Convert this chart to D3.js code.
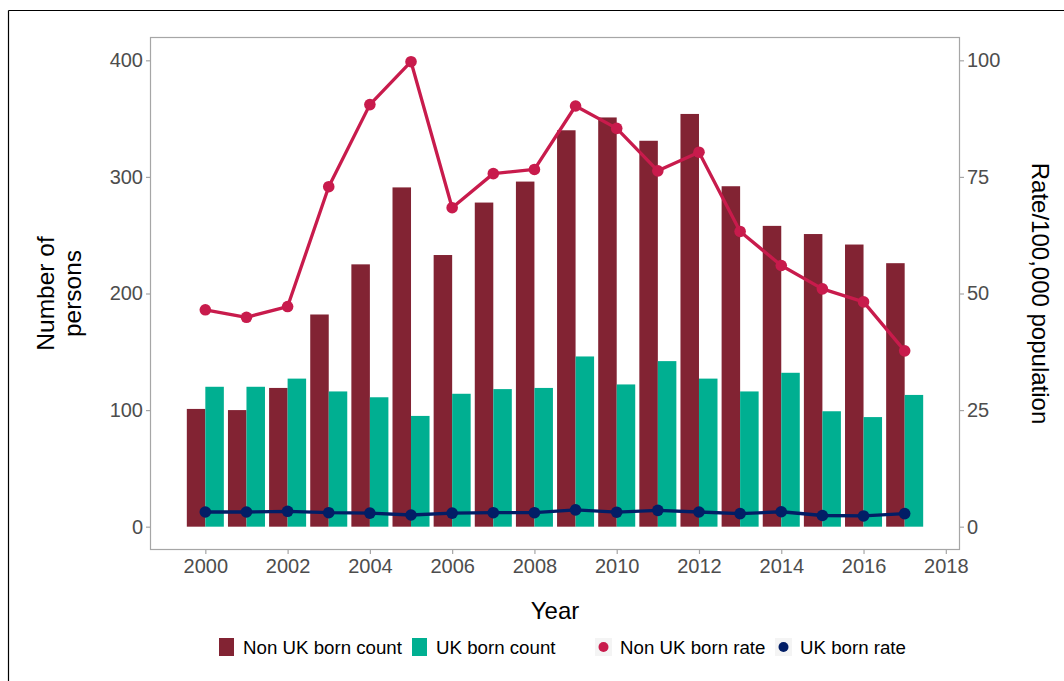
<!DOCTYPE html>
<html><head><meta charset="utf-8">
<script src="https://cdn.jsdelivr.net/npm/d3@7"></script>
<style>body{margin:0;background:#fff}svg{display:block;font-family:"Liberation Sans",Arial,sans-serif}</style>
</head><body><svg id="c" width="1064" height="681"></svg>
<script>
const years = [2000,2001,2002,2003,2004,2005,2006,2007,2008,2009,2010,2011,2012,2013,2014,2015,2016,2017];
const nonUkCount = [101,100,119,182,225,291,233,278,296,340,351,331,354,292,258,251,242,226];
const ukCount = [120,120,127,116,111,95,114,118,119,146,122,142,127,116,132,99,94,113];
const nonUkRate = [46.5,44.9,47.2,72.9,90.5,99.7,68.4,75.7,76.6,90.2,85.4,76.3,80.3,63.3,56.0,51.0,48.2,37.7];
const ukRate = [3.15,3.15,3.3,3.0,2.9,2.5,2.9,3.0,3.0,3.6,3.1,3.5,3.15,2.8,3.2,2.4,2.3,2.8];
const xTicks = [2000,2002,2004,2006,2008,2010,2012,2014,2016,2018];
const yTicks = [0,100,200,300,400];
const rateTicks = [0,25,50,75,100];
const legendItems = ["Non UK born count","UK born count","Non UK born rate","UK born rate"];

const C = {nonUk:"#822333", uk:"#00AF91", nonUkRate:"#C81B4C", ukRate:"#021E66"};
const svg = d3.select("#c");
const L=150,R=960,T=37,B=550;
const x = d3.scaleLinear().domain([1998.655,2018.345]).range([L,R]);
const y = d3.scaleLinear().domain([-20,420]).range([B,T]);
const yr = d3.scaleLinear().domain([-5,105]).range([B,T]);

// outer frame (top and left edges)
svg.append("line").attr("x1",8.5).attr("x2",1064).attr("y1",10.5).attr("y2",10.5).attr("stroke","#000").attr("stroke-width",1.2);
svg.append("line").attr("x1",8.5).attr("x2",8.5).attr("y1",10.5).attr("y2",681).attr("stroke","#000").attr("stroke-width",1.2);

// panel border
svg.append("rect").attr("x",L+0.5).attr("y",T+0.5).attr("width",R-L-1).attr("height",B-T-1)
  .attr("fill","none").attr("stroke","#a6a6a6").attr("stroke-width",1.2);

const bw = x(2000.45)-x(2000);
svg.append("g").selectAll("rect").data(years).join("rect")
  .attr("x",(d)=>x(d)-bw).attr("width",bw)
  .attr("y",(d,i)=>y(nonUkCount[i])).attr("height",(d,i)=>y(0)-y(nonUkCount[i]))
  .attr("fill",C.nonUk);
svg.append("g").selectAll("rect").data(years).join("rect")
  .attr("x",(d)=>x(d)).attr("width",bw)
  .attr("y",(d,i)=>y(ukCount[i])).attr("height",(d,i)=>y(0)-y(ukCount[i]))
  .attr("fill",C.uk);

function series(vals,color){
  const pts = years.map((d,i)=>[x(d),yr(vals[i])]);
  svg.append("path").attr("d",d3.line()(pts)).attr("fill","none").attr("stroke",color).attr("stroke-width",3.3).attr("stroke-linejoin","round");
  svg.append("g").selectAll("circle").data(pts).join("circle").attr("cx",d=>d[0]).attr("cy",d=>d[1]).attr("r",5.8).attr("fill",color);
}
series(nonUkRate,C.nonUkRate);
series(ukRate,C.ukRate);

// axes
const tickCol="#4d4d4d";
const gl = svg.append("g").attr("transform",`translate(${L},0)`).call(d3.axisLeft(y).tickValues(yTicks).tickSize(4).tickPadding(3));
const gr = svg.append("g").attr("transform",`translate(${R},0)`).call(d3.axisRight(yr).tickValues(rateTicks).tickSize(4).tickPadding(3));
const gb = svg.append("g").attr("transform",`translate(0,${B})`).call(d3.axisBottom(x).tickValues(xTicks).tickFormat(d3.format("d")).tickSize(4).tickPadding(5));
[gl,gr,gb].forEach(g=>{
  g.select(".domain").remove();
  g.selectAll(".tick line").attr("stroke","#a6a6a6").attr("stroke-width",1.2);
  g.selectAll("text").attr("fill",tickCol).attr("font-size",20).attr("font-family","Liberation Sans, Arial, sans-serif");
});

// titles
svg.append("text").attr("x",(L+R)/2).attr("y",619).attr("text-anchor","middle").attr("font-size",24).attr("fill","#000").text("Year");
const lt = svg.append("text").attr("transform",`translate(0,${(T+B)/2}) rotate(-90)`).attr("text-anchor","middle").attr("font-size",24.5).attr("fill","#000");
lt.append("tspan").attr("x",0).attr("y",54).text("Number of");
lt.append("tspan").attr("x",0).attr("y",81).text("persons");
svg.append("text").attr("transform",`translate(1032,${(T+B)/2}) rotate(90)`).attr("text-anchor","middle").attr("font-size",24).attr("fill","#000").text("Rate/100,000 population");

// legend
const lg = svg.append("g").attr("font-size",18.7).attr("fill","#000");
const ly = 647;
const legendX = [219,412,595,775];
legendItems.forEach((t,i)=>{
  const gx = legendX[i];
  if(i<2){
    lg.append("rect").attr("x",gx).attr("y",ly-9).attr("width",15).attr("height",18).attr("fill",i===0?C.nonUk:C.uk);
  } else {
    lg.append("rect").attr("x",gx).attr("y",ly-9).attr("width",17).attr("height",18).attr("fill","#f4f4f4");
    lg.append("circle").attr("cx",gx+8.5).attr("cy",ly).attr("r",5).attr("fill",i===2?C.nonUkRate:C.ukRate);
  }
  lg.append("text").attr("x",gx+(i<2?24:25)).attr("y",ly+6.5).text(t);
});
</script></body></html>
